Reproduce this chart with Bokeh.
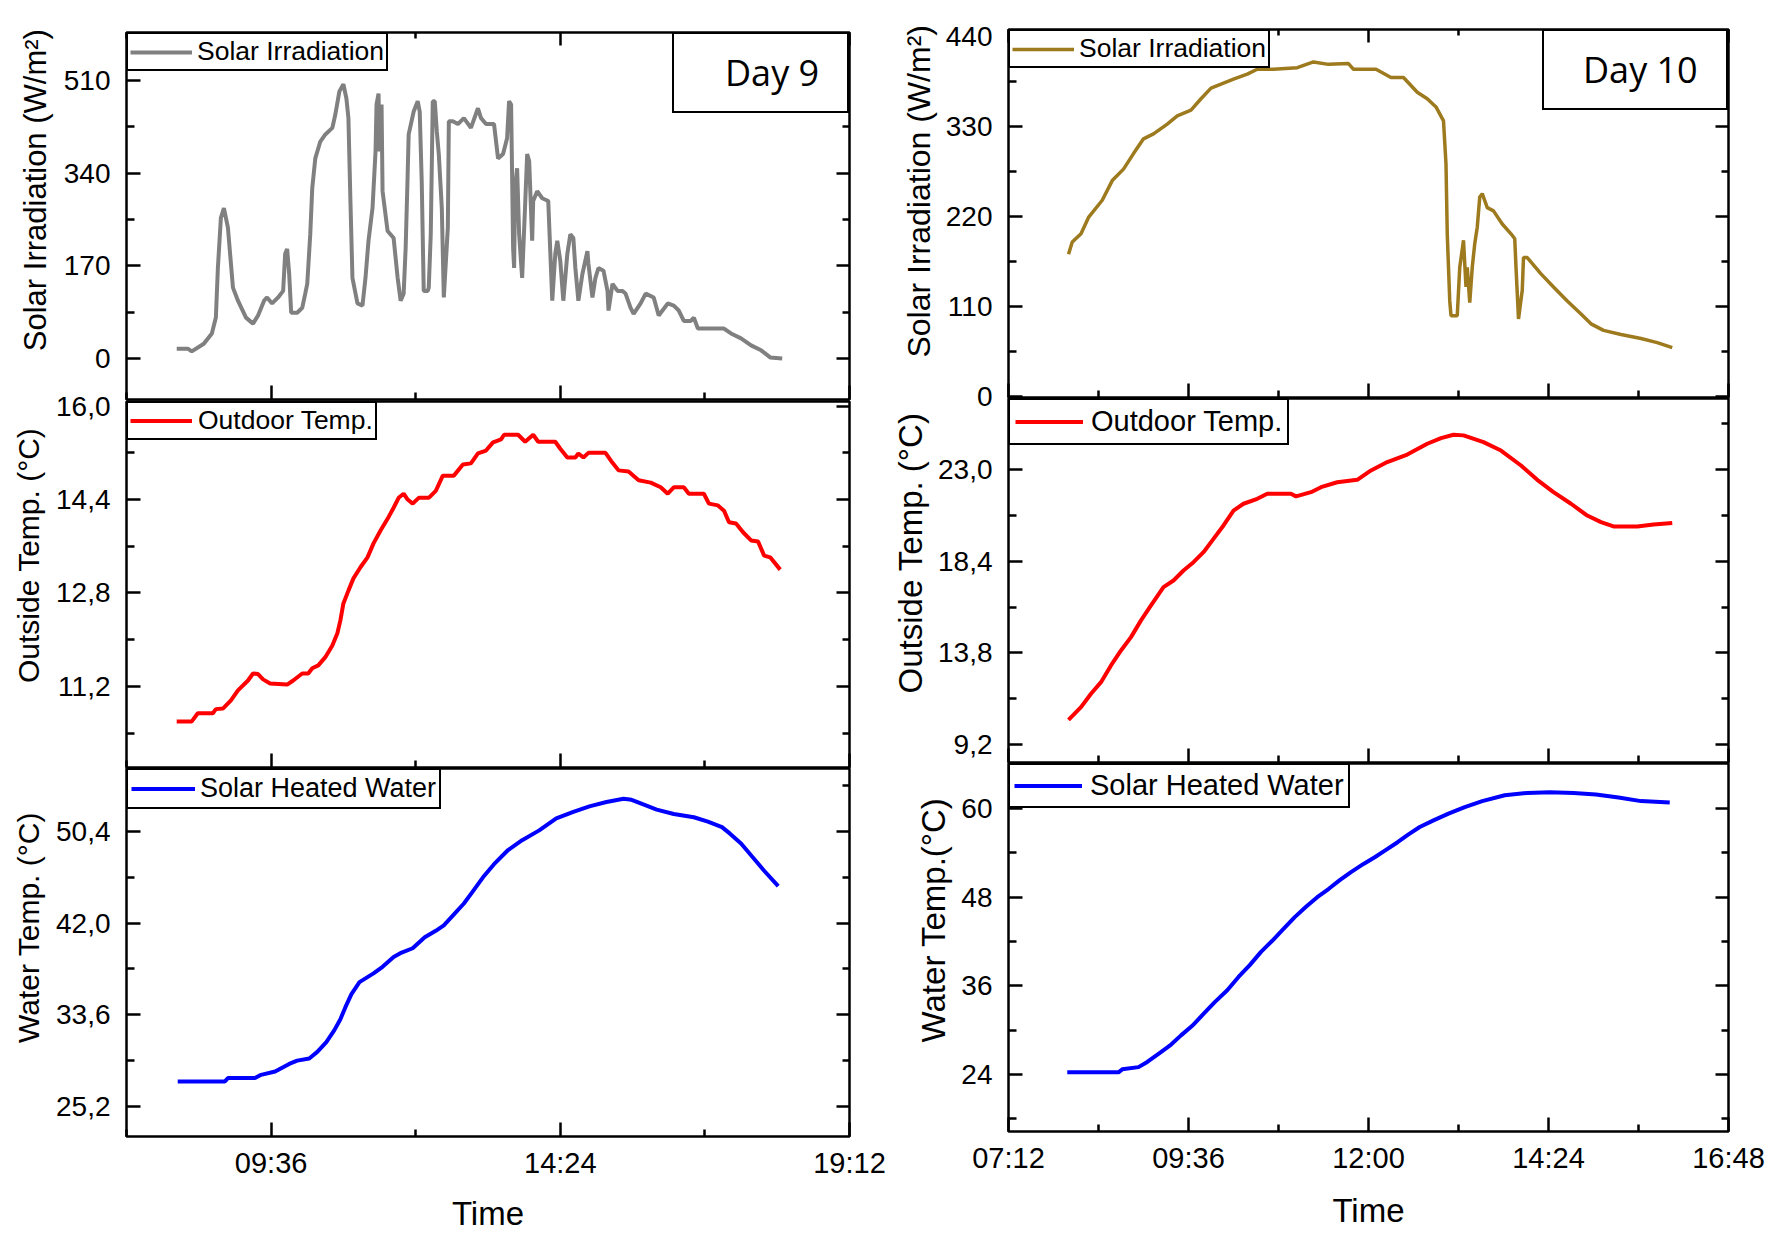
from bokeh.plotting import figure
from bokeh.layouts import row, column
from bokeh.models import Range1d, FixedTicker, LinearAxis, Legend, LegendItem
from bokeh.embed import file_html
from bokeh.resources import INLINE

# ---------------- data ----------------
# Day 9
d9_solar_time = ["08:02", "08:13", "08:17", "08:29", "08:37", "08:41", "08:43", "08:46", "08:49", "08:53",
                 "08:58", "09:03", "09:11", "09:18", "09:23", "09:29", "09:32", "09:37", "09:43", "09:48",
                 "09:50", "09:52", "09:54", "09:56", "10:02", "10:07", "10:10", "10:12", "10:15", "10:17",
                 "10:20", "10:25", "10:30", "10:37", "10:40", "10:44", "10:48", "10:51", "10:53", "10:55",
                 "10:57", "11:02", "11:07", "11:10", "11:13", "11:17", "11:20", "11:21", "11:23", "11:24",
                 "11:26", "11:27", "11:32", "11:38", "11:42", "11:45", "11:48", "11:50", "11:52", "11:53",
                 "11:58", "12:02", "12:04", "12:06", "12:08", "12:12", "12:13", "12:15", "12:17", "12:19",
                 "12:21", "12:23", "12:26", "12:28", "12:32", "12:33", "12:37", "12:42", "12:48", "12:55",
                 "13:02", "13:05", "13:10", "13:18", "13:22", "13:27", "13:31", "13:33", "13:35", "13:36",
                 "13:37", "13:38", "13:39", "13:41", "13:43", "13:46", "13:49", "13:51", "13:53", "13:56",
                 "13:57", "14:01", "14:06", "14:12", "14:14", "14:16", "14:19", "14:21", "14:24", "14:27",
                 "14:31", "14:34", "14:37", "14:39", "14:42", "14:46", "14:51", "14:52", "14:56", "14:59",
                 "15:02", "15:07", "15:11", "15:12", "15:16", "15:21", "15:26", "15:29", "15:34", "15:37",
                 "15:44", "15:49", "15:57", "16:02", "16:11", "16:17", "16:22", "16:27", "16:34", "16:37",
                 "16:41", "16:57", "17:07", "17:14", "17:24", "17:34", "17:44", "17:53", "18:05"]
d9_solar = [18, 18, 13, 27, 46, 75, 166, 258, 276, 240,
            130, 106, 75, 64, 79, 106, 112, 101, 112, 124,
            192, 201, 155, 84, 84, 93, 119, 137, 228, 313,
            367, 398, 411, 423, 448, 490, 503, 477, 441, 289,
            148, 101, 97, 148, 216, 276, 380, 466, 486, 380,
            466, 307, 234, 221, 148, 106, 119, 203, 338, 411,
            453, 472, 453, 325, 124, 124, 130, 228, 472, 472,
            417, 375, 276, 112, 240, 435, 435, 430, 441, 423,
            459, 441, 430, 430, 367, 375, 404, 472, 466, 338,
            203, 166, 313, 349, 228, 148, 283, 375, 362, 216,
            289, 307, 294, 289, 197, 106, 192, 216, 179, 106,
            192, 228, 221, 166, 106, 155, 197, 174, 112, 148,
            166, 161, 124, 88, 137, 124, 124, 119, 93, 82,
            101, 119, 112, 79, 101, 97, 88, 69, 69, 75,
            55, 55, 55, 46, 37, 24, 15, 2, 0]

d9_out_time = ["08:02", "08:17", "08:23", "08:38", "08:41", "08:48", "08:56", "09:03", "09:13", "09:18",
               "09:23", "09:28", "09:35", "09:52", "09:58", "10:07", "10:13", "10:17", "10:23", "10:30",
               "10:37", "10:42", "10:45", "10:48", "10:53", "10:58", "11:05", "11:12", "11:18", "11:25",
               "11:32", "11:38", "11:43", "11:48", "11:52", "11:57", "12:03", "12:13", "12:20", "12:27",
               "12:38", "12:47", "12:55", "13:02", "13:10", "13:17", "13:25", "13:28", "13:42", "13:49",
               "13:57", "14:02", "14:19", "14:24", "14:31", "14:39", "14:42", "14:47", "14:52", "15:09",
               "15:16", "15:22", "15:32", "15:42", "15:54", "16:04", "16:11", "16:17", "16:27", "16:32",
               "16:47", "16:52", "17:01", "17:07", "17:12", "17:19", "17:26", "17:34", "17:41", "17:47",
               "17:53", "18:03"]
d9_out = [10.60, 10.60, 10.74, 10.74, 10.81, 10.82, 10.96, 11.13, 11.30, 11.42,
          11.41, 11.32, 11.25, 11.23, 11.30, 11.42, 11.42, 11.51, 11.56, 11.70,
          11.90, 12.11, 12.33, 12.62, 12.84, 13.05, 13.24, 13.41, 13.65, 13.87,
          14.07, 14.26, 14.43, 14.50, 14.40, 14.33, 14.43, 14.43, 14.55, 14.81,
          14.81, 15.00, 15.02, 15.19, 15.24, 15.38, 15.43, 15.51, 15.51, 15.39,
          15.51, 15.39, 15.39, 15.27, 15.12, 15.12, 15.19, 15.12, 15.20, 15.20,
          15.03, 14.90, 14.88, 14.73, 14.69, 14.61, 14.50, 14.61, 14.61, 14.50,
          14.50, 14.33, 14.30, 14.21, 14.01, 13.99, 13.84, 13.70, 13.68, 13.44,
          13.41, 13.20]

d9_water_time = ["08:03", "08:50", "08:53", "09:20", "09:26", "09:40", "09:54", "10:02", "10:14", "10:22",
                 "10:31", "10:39", "10:45", "10:50", "10:56", "11:04", "11:18", "11:27", "11:38", "11:46",
                 "11:57", "12:09", "12:20", "12:28", "12:39", "12:48", "12:56", "13:07", "13:18", "13:32",
                 "13:46", "14:03", "14:20", "14:37", "14:53", "15:10", "15:27", "15:35", "15:46", "16:00",
                 "16:17", "16:37", "16:51", "17:05", "17:13", "17:24", "17:35", "17:47", "18:01"]
d9_water = [27.5, 27.5, 27.8, 27.8, 28.1, 28.4, 29.1, 29.4, 29.6, 30.2,
            31.1, 32.2, 33.2, 34.3, 35.5, 36.6, 37.4, 38.0, 38.9, 39.3,
            39.7, 40.7, 41.3, 41.8, 42.9, 43.8, 44.8, 46.2, 47.4, 48.7,
            49.6, 50.5, 51.6, 52.2, 52.7, 53.1, 53.4, 53.3, 52.9, 52.4,
            52.0, 51.7, 51.3, 50.8, 50.2, 49.3, 48.1, 46.8, 45.4]

# Day 10
d10_solar_time = ["08:00", "08:03", "08:10", "08:16", "08:27", "08:35", "08:44", "08:52", "09:00", "09:08",
                  "09:19", "09:27", "09:38", "09:46", "09:54", "10:02", "10:12", "10:23", "10:31", "10:44",
                  "11:03", "11:16", "11:28", "11:44", "11:48", "12:06", "12:18", "12:28", "12:39", "12:47",
                  "12:54", "13:00", "13:02", "13:03", "13:05", "13:06", "13:11", "13:13", "13:16", "13:18",
                  "13:19", "13:21", "13:23", "13:25", "13:27", "13:29", "13:31", "13:35", "13:40", "13:47",
                  "13:54", "13:57", "13:58", "14:00", "14:03", "14:04", "14:07", "14:18", "14:28", "14:39",
                  "14:50", "14:58", "15:08", "15:22", "15:38", "15:51", "16:03"]
d10_solar = [174, 189, 199, 219, 240, 264, 278, 297, 315, 321,
             333, 343, 350, 364, 377, 382, 388, 394, 400, 400,
             402, 409, 406, 407, 400, 400, 390, 390, 372, 364,
             354, 337, 284, 199, 117, 99, 99, 158, 191, 134,
             158, 115, 158, 187, 207, 244, 248, 231, 227, 211,
             199, 193, 158, 95, 130, 170, 170, 150, 134, 117,
             101, 89, 81, 76, 71, 66, 60]

d10_out_time = ["08:00", "08:10", "08:18", "08:26", "08:34", "08:42", "08:50", "08:58", "09:06", "09:16",
                "09:24", "09:32", "09:40", "09:48", "09:56", "10:04", "10:12", "10:20", "10:31", "10:39",
                "10:58", "11:02", "11:14", "11:22", "11:35", "11:51", "12:02", "12:15", "12:31", "12:47",
                "12:58", "13:08", "13:16", "13:32", "13:46", "14:02", "14:15", "14:28", "14:42", "14:55",
                "15:06", "15:16", "15:35", "15:48", "16:03"]
d10_out = [10.44, 11.08, 11.75, 12.33, 13.17, 13.92, 14.59, 15.43, 16.18, 17.10,
           17.43, 17.93, 18.35, 18.85, 19.52, 20.19, 20.94, 21.28, 21.53, 21.78,
           21.78, 21.65, 21.86, 22.11, 22.36, 22.48, 22.95, 23.37, 23.75, 24.29,
           24.57, 24.74, 24.71, 24.37, 23.95, 23.20, 22.48, 21.86, 21.28, 20.69,
           20.36, 20.14, 20.14, 20.24, 20.31]

d10_water_time = ["07:59", "08:40", "08:43", "08:56", "09:03", "09:12", "09:21", "09:30", "09:39", "09:48",
                  "09:57", "10:07", "10:16", "10:25", "10:34", "10:43", "10:52", "11:01", "11:10", "11:19",
                  "11:28", "11:37", "11:46", "11:56", "12:05", "12:14", "12:23", "12:32", "12:41", "12:52",
                  "13:04", "13:17", "13:31", "13:49", "14:07", "14:25", "14:44", "15:02", "15:20", "15:38",
                  "16:01"]
d10_water = [24.3, 24.3, 24.7, 25.0, 25.7, 26.8, 27.9, 29.3, 30.6, 32.2,
             33.8, 35.4, 37.2, 38.8, 40.6, 42.1, 43.7, 45.3, 46.7, 48.0,
             49.1, 50.3, 51.4, 52.5, 53.4, 54.4, 55.4, 56.5, 57.5, 58.4,
             59.3, 60.2, 61.0, 61.8, 62.1, 62.2, 62.1, 61.9, 61.5, 61.0,
             60.8]

# tick labels
d9_x_major = ["09:36", "14:24", "19:12"]
d9_x_minor = ["07:12", "12:00", "16:48"]
d10_x_major = ["07:12", "09:36", "12:00", "14:24", "16:48"]
d10_x_minor = ["08:24", "10:48", "13:12", "15:36"]

d9_solar_ticks = ["0", "170", "340", "510"]
d9_solar_minor = [85, 255, 425, 595]
d9_out_ticks = ["11,2", "12,8", "14,4", "16,0"]
d9_out_minor = [10.4, 12.0, 13.6, 15.2]
d9_water_ticks = ["25,2", "33,6", "42,0", "50,4"]
d9_water_minor = [29.4, 37.8, 46.2, 54.6]
d10_solar_ticks = ["0", "110", "220", "330", "440"]
d10_solar_minor = [55, 165, 275, 385]
d10_out_ticks = ["9,2", "13,8", "18,4", "23,0"]
d10_out_minor = [11.5, 16.1, 20.7, 25.3]
d10_water_ticks = ["24", "36", "48", "60"]
d10_water_minor = [18, 30, 42, 54]

# ---------------- helpers ----------------
FONT = "Liberation Sans"
NB = "\u00a0"


def to_min(s):
    h, m = s.split(":")
    return int(h) * 60 + int(m)


def to_num(s):
    return float(s.replace(",", "."))


def make_axis(ticks, minor, labels=None, tick_in=14, minor_in=7, font_size="28px",
              standoff=14, label=None, label_size="30px", label_standoff=8):
    ax = LinearAxis(ticker=FixedTicker(ticks=ticks, minor_ticks=minor))
    ax.axis_line_color = None
    ax.major_tick_in = tick_in
    ax.major_tick_out = 0
    ax.minor_tick_in = minor_in
    ax.minor_tick_out = 0
    ax.major_tick_line_width = 2.5
    ax.minor_tick_line_width = 2.5
    ax.major_tick_line_color = "black"
    ax.minor_tick_line_color = "black"
    if labels is None:
        # mirror axis: ticks only, labels not drawn
        ax.major_label_text_color = None
        ax.major_label_text_font_size = "10px"
        ax.major_label_standoff = 0
    else:
        ax.major_label_overrides = {t: l for t, l in zip(ticks, labels)}
        ax.major_label_text_font = FONT
        ax.major_label_text_font_size = font_size
        ax.major_label_text_color = "black"
        ax.major_label_standoff = standoff
    if label is not None:
        ax.axis_label = label
        ax.axis_label_text_font = FONT
        ax.axis_label_text_font_size = label_size
        ax.axis_label_text_font_style = "normal"
        ax.axis_label_text_color = "black"
        ax.axis_label_standoff = label_standoff
    return ax


def panel(x_rng, x_major, x_minor, show_x, y_rng, y_ticks, y_minor, ylabel,
          times, vals, color, lw, leg_label, leg, day=None, top=False,
          fw=723, fh=367, bl=126, br=40, bt=20, bb=20, margin_top=0,
          ylab_size="30px", ylab_standoff=8, ytick_size="28px", ytick_standoff=16,
          time_standoff=13, ylab_shift=0):
    p = figure(frame_width=fw, frame_height=fh, x_range=x_rng, y_range=Range1d(*y_rng),
               x_axis_location=None, y_axis_location=None,
               output_backend="svg", toolbar_location=None,
               min_border=0, min_border_left=bl, min_border_right=br,
               min_border_top=bt, min_border_bottom=bb,
               border_fill_color=None, background_fill_color="white",
               outline_line_color="black", outline_line_width=2.5)
    p.grid.grid_line_color = None
    p.grid.visible = False
    if margin_top:
        p.margin = (margin_top, 0, 0, 0)

    xt = [to_min(s) for s in x_major]
    xm = [to_min(s) for s in x_minor]
    yt = [to_num(s) for s in y_ticks]

    # leading no-break spaces nudge the centred, rotated label upwards as in the original
    p.add_layout(make_axis(yt, y_minor, labels=y_ticks, tick_in=14, minor_in=8,
                           font_size=ytick_size, standoff=ytick_standoff,
                           label=NB * ylab_shift + ylabel,
                           label_size=ylab_size, label_standoff=ylab_standoff), "left")
    p.add_layout(make_axis(yt, y_minor, tick_in=13, minor_in=7), "right")
    if show_x:
        p.add_layout(make_axis(xt, xm, labels=x_major, tick_in=14, minor_in=7,
                               font_size="29px", standoff=10, label="Time",
                               label_size="33px", label_standoff=time_standoff), "below")
    else:
        p.add_layout(make_axis(xt, xm, tick_in=14, minor_in=7), "below")
    if top:
        p.add_layout(make_axis(xt, xm, tick_in=13, minor_in=6), "above")

    r = p.line([to_min(s) for s in times], vals, line_color=color, line_width=lw)
    fs, gw, so, pad, lh = leg
    lg = Legend(items=[LegendItem(label=leg_label, renderers=[r])], location="top_left",
                margin=0, padding=pad, spacing=0, glyph_width=gw, glyph_height=lh,
                label_height=lh, label_standoff=so, label_text_font=FONT,
                label_text_font_size=fs, label_text_color="black",
                border_line_color="black", border_line_width=2.5, border_line_alpha=1.0,
                background_fill_color="white", background_fill_alpha=1.0)
    p.add_layout(lg)

    if day is not None:
        text, pad_d, so_d, lw_d, lh_d = day
        dr = p.line([], [], line_alpha=0)
        dl = Legend(items=[LegendItem(label=text, renderers=[dr])], location="top_right",
                    margin=0, padding=pad_d, spacing=0, glyph_width=0, glyph_height=lh_d,
                    label_height=lh_d, label_width=lw_d, label_standoff=so_d,
                    label_text_font="Open Sans", label_text_font_size="36px",
                    label_text_color="black",
                    border_line_color="black", border_line_width=2.5, border_line_alpha=1.0,
                    background_fill_color="white", background_fill_alpha=1.0)
        p.add_layout(dl)
    return p


# ---------------- Day 9 column ----------------
x9 = Range1d(to_min("07:12"), to_min("19:12"))
L1 = panel(x9, d9_x_major, d9_x_minor, False, (-75.2, 598.0), d9_solar_ticks, d9_solar_minor,
           "Solar Irradiation (W/m²)", d9_solar_time, d9_solar, "#808080", 4,
           "Solar Irradiation", ("26.5px", 62, 5, 2, 30), day=("Day 9", 10, 41, 112, 57), top=True,
           fh=367, bt=32, bb=20, ylab_size="31px", ylab_shift=6)
L2 = panel(x9, d9_x_major, d9_x_minor, False, (9.81, 16.08), d9_out_ticks, d9_out_minor,
           "Outside Temp. (°C)", d9_out_time, d9_out, "#ff0000", 4,
           "Outdoor Temp.", ("26.5px", 62, 6, 2, 29),
           fh=366, bt=20, bb=20, margin_top=-38, ylab_shift=7)
L3 = panel(x9, d9_x_major, d9_x_minor, True, (22.45, 56.17), d9_water_ticks, d9_water_minor,
           "Water Temp. (°C)", d9_water_time, d9_water, "#0000ff", 4,
           "Solar Heated Water", ("27px", 64, 5, 3, 31),
           fh=368, bt=20, bb=96, margin_top=-39, time_standoff=13, ylab_shift=6)

# ---------------- Day 10 column ----------------
x10 = Range1d(to_min("07:12"), to_min("16:48"))
R1 = panel(x10, d10_x_major, d10_x_minor, False, (-1.0, 448.6), d10_solar_ticks, d10_solar_minor,
           "Solar Irradiation (W/m²)", d10_solar_time, d10_solar, "#9e7a1e", 3.5,
           "Solar Irradiation", ("26.5px", 62, 5, 2, 30), day=("Day 10", 10, 29, 133, 57), top=True,
           fw=720, fh=368, bl=119, br=41, bt=29, bb=20, ylab_size="32px",
           ylab_standoff=6, ytick_standoff=16, ylab_shift=5)
R2 = panel(x10, d10_x_major, d10_x_minor, False, (8.30, 26.56), d10_out_ticks, d10_out_minor,
           "Outside Temp. (°C)", d10_out_time, d10_out, "#ff0000", 4,
           "Outdoor Temp.", ("29px", 68, 8, 5, 33),
           fw=720, fh=364, bl=119, br=41, bt=20, bb=20, margin_top=-39,
           ylab_size="33px", ylab_standoff=6, ytick_standoff=16, ylab_shift=6)
R3 = panel(x10, d10_x_major, d10_x_minor, True, (16.29, 66.09), d10_water_ticks, d10_water_minor,
           "Water Temp.(°C)", d10_water_time, d10_water, "#0000ff", 4,
           "Solar Heated Water", ("29px", 68, 8, 4, 33),
           fw=720, fh=368, bl=119, br=41, bt=20, bb=101, margin_top=-39,
           ylab_size="33px", ylab_standoff=6, ytick_standoff=16, time_standoff=15, ylab_shift=6)

layout = row(column(L1, L2, L3, spacing=0), column(R1, R2, R3, spacing=0), spacing=0)
open("out.html", "w").write(file_html(layout, INLINE))
